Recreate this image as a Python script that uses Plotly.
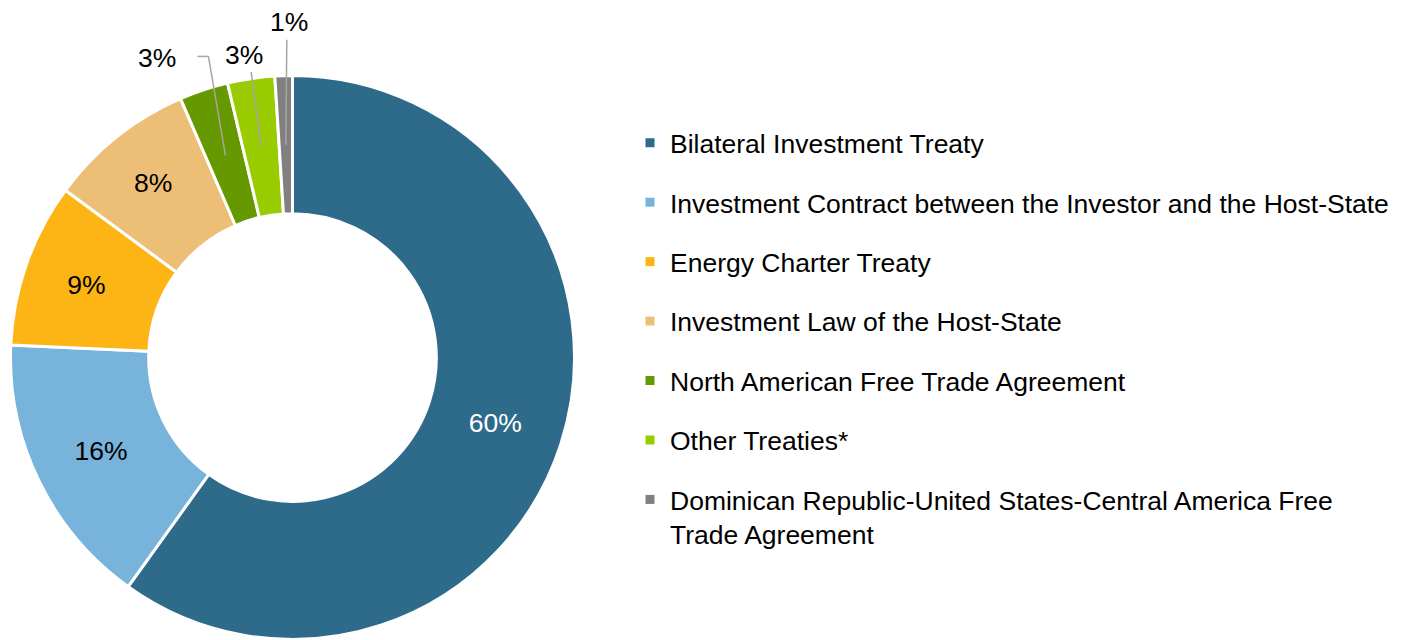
import math
import plotly.graph_objects as go

categories = [
    "Bilateral Investment Treaty",
    "Investment Contract between the Investor and the Host-State",
    "Energy Charter Treaty",
    "Investment Law of the Host-State",
    "North American Free Trade Agreement",
    "Other Treaties*",
    "Dominican Republic-United States-Central America Free<br>Trade Agreement",
]
values = [59.9, 15.8, 9.4, 8.4, 2.8, 2.7, 1.0]
colors = ["#2E6B8B", "#77B3DB", "#FDB515", "#EDBE76", "#669900", "#99CC00", "#808080"]
label_colors = ["white", "black", "black", "black", "black", "black", "black"]
outside_labels = [False, False, False, False, True, True, True]
# pixel offsets of the outside label centres from the slice mid-ring point
label_offsets = [None, None, None, None, (-68, -97), (-17, -92), (3, -123)]
# leader-line start, relative to the label centre (pixels)
leader_starts = [None, None, None, None, (40, -2), (7, 17), (-2, 18)]

W, H = 1410, 640
PAGE_OFF = 8  # browser body margin
FONT = "Liberation Sans, Arial, sans-serif"
FS = 26.5


def px2paper(x, y):
    return (x - PAGE_OFF) / W, 1 - (y - PAGE_OFF) / H


# pie placement (screen pixels)
cx, cy, R = 292.5, 357.5, 282.0
hole = 0.51
x0p, y1p = px2paper(cx - R, cy - R)
x1p, y0p = px2paper(cx + R, cy + R)

fig = go.Figure()
fig.add_trace(go.Pie(
    labels=categories,
    values=values,
    sort=False,
    direction="clockwise",
    rotation=0,
    hole=hole,
    marker=dict(colors=colors, line=dict(color="white", width=3)),
    texttemplate=["" if o else "%{percent:.0%}" for o in outside_labels],
    textposition="inside",
    insidetextorientation="horizontal",
    textfont=dict(family=FONT, size=FS, color=label_colors),
    showlegend=False,
    hoverinfo="label+percent",
    domain=dict(x=[x0p, x1p], y=[y0p, y1p]),
))

# legend entries
for name, col in zip(categories, colors):
    fig.add_trace(go.Scatter(
        x=[None], y=[None], mode="markers", name=name, legendgroup=name,
        marker=dict(symbol="square", size=9, color=col),
    ))

# outside labels with leader lines, positioned from the slice angles
rmid = R * (1 + hole) / 2
total = sum(values)
cum = 0.0
annotations = []
shapes = []
line_style = dict(color="#A6A6A6", width=1.5)
for v, o, off, st in zip(values, outside_labels, label_offsets, leader_starts):
    mid = (cum + v / 2) / total * 2 * math.pi
    cum += v
    if not o:
        continue
    px = cx + rmid * math.sin(mid)
    py = cy - rmid * math.cos(mid)
    tx, ty = px + off[0], py + off[1]
    ax_, ay_ = px2paper(tx, ty)
    annotations.append(dict(
        x=ax_, y=ay_, xref="paper", yref="paper", xanchor="center", yanchor="middle",
        text=f"{round(v / total * 100)}%", showarrow=False,
        font=dict(family=FONT, size=FS, color="black"),
    ))
    sx, sy = tx + st[0], ty + st[1]
    if st[0] > 20:
        ex, ey = sx + 11, sy
        a0, b0 = px2paper(sx, sy)
        a1, b1 = px2paper(ex, ey)
        shapes.append(dict(type="line", xref="paper", yref="paper",
                           x0=a0, y0=b0, x1=a1, y1=b1, line=line_style))
        sx, sy = ex, ey
    a0, b0 = px2paper(sx, sy)
    a1, b1 = px2paper(px, py)
    shapes.append(dict(type="line", xref="paper", yref="paper",
                       x0=a0, y0=b0, x1=a1, y1=b1, line=line_style))

lx, ly = px2paper(630, 119)
fig.update_layout(
    width=W, height=H,
    margin=dict(l=0, r=0, t=0, b=0),
    paper_bgcolor="white", plot_bgcolor="white",
    xaxis=dict(visible=False), yaxis=dict(visible=False),
    legend=dict(
        x=lx, y=ly, xanchor="left", yanchor="top",
        font=dict(family=FONT, size=FS, color="black"),
        tracegroupgap=22, traceorder="grouped", valign="top",
        itemclick=False, itemdoubleclick=False,
    ),
    annotations=annotations,
    shapes=shapes,
)

fig.write_html("out.html")
